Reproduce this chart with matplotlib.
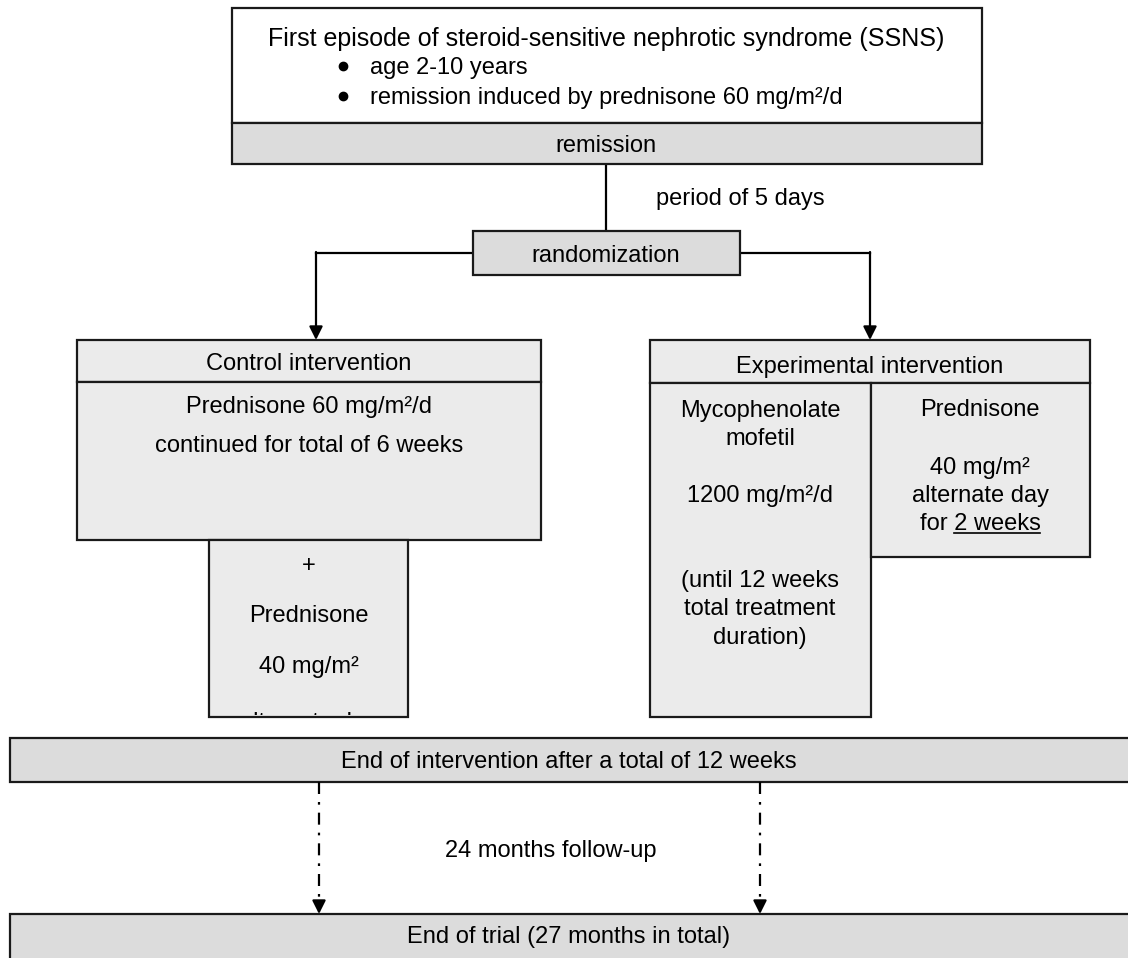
import matplotlib
matplotlib.use('Agg')
import matplotlib.pyplot as plt
from matplotlib.patches import Rectangle
from matplotlib.transforms import Bbox, TransformedBbox

plt.rcParams['font.family'] = ['Liberation Sans', 'DejaVu Sans']

# texts of the flowchart
inclusion_title = 'First episode of steroid-sensitive nephrotic syndrome (SSNS)'
inclusion_items = ['age 2-10 years', 'remission induced by prednisone 60 mg/m\u00b2/d']
remission_label = 'remission'
gap_label = 'period of 5 days'
random_label = 'randomization'
control_header = 'Control intervention'
control_lines = ['Prednisone 60 mg/m\u00b2/d', 'continued for total of 6 weeks']
control_extra = ['+', 'Prednisone', '40 mg/m\u00b2']
control_cut = 'alternate day'
exp_header = 'Experimental intervention'
mmf_lines = ['Mycophenolate', 'mofetil', '', '1200 mg/m\u00b2/d', '', '', '(until 12 weeks',
             'total treatment', 'duration)']
pred_lines = ['Prednisone', '', '40 mg/m\u00b2', 'alternate day']
pred_last = ('for ', '2 weeks')
end_intervention = 'End of intervention after a total of 12 weeks'
followup_label = '24 months follow-up'
end_trial = 'End of trial (27 months in total)'

W, H = 1128, 958
fig = plt.figure(figsize=(W / 100, H / 100), dpi=100)
ax = fig.add_axes([0, 0, 1, 1])
ax.set_xlim(0, W)
ax.set_ylim(H, 0)
ax.axis('off')

edge = '#1a1a1a'
dark = '#dcdcdc'
light = '#ebebeb'
fs = 17
dashdot = (0, (5.4, 3.6, 1.2, 3.6))


def box(x0, y0, x1, y1, fc):
    r = Rectangle((x0, y0), x1 - x0, y1 - y0, facecolor=fc, edgecolor=edge, lw=1.6, zorder=2)
    ax.add_patch(r)
    return r


def txt(x, y, s, ha='center', size=fs, **kw):
    # y is the visual middle of the line; nudge up a little to match the reference
    return ax.text(x, y - 2, s, ha=ha, va='center_baseline', fontsize=size, zorder=4, **kw)


def arrow(x0, y0, x1, y1, ls='-'):
    if ls == '-':
        ax.annotate('', xy=(x1, y1), xytext=(x0, y0),
                    arrowprops=dict(arrowstyle='-|>', color='black', lw=1.6,
                                    mutation_scale=20, shrinkA=0, shrinkB=0), zorder=3)
    else:
        ax.plot([x0, x1], [y0, y1 - 10], color='black', lw=1.6, linestyle=ls, zorder=3)
        ax.annotate('', xy=(x1, y1), xytext=(x1, y1 - 12),
                    arrowprops=dict(arrowstyle='-|>', color='black', lw=1.6,
                                    mutation_scale=20, shrinkA=0, shrinkB=0), zorder=3)


# top part
box(232, 8, 982, 123, 'white')
txt(606, 38, inclusion_title, size=18)
for i, item in enumerate(inclusion_items):
    ax.plot(343, 66 + 30 * i, 'o', color='black', ms=6, zorder=4)
    txt(370, 67 + 30 * i, item, ha='left')
box(232, 123, 982, 164, dark)
txt(606, 145, remission_label)

ax.plot([606, 606], [164, 231], color='black', lw=1.6, zorder=1)
txt(740, 198, gap_label)

box(473, 231, 740, 275, dark)
txt(606, 255, random_label)

# branches
ax.plot([473, 316], [253, 253], color='black', lw=1.6, zorder=1)
arrow(316, 252, 316, 340)
ax.plot([740, 870], [253, 253], color='black', lw=1.6, zorder=1)
arrow(870, 252, 870, 340)

# control arm
box(77, 340, 541, 382, light)
txt(309, 363, control_header)
box(77, 382, 541, 540, light)
for i, s in enumerate(control_lines):
    txt(309, 406 + 39 * i, s)
box(209, 540, 408, 717, light)
for y, s in zip([565, 615, 666], control_extra):
    txt(309, y, s)
# last line of this box is cut off by the box edge in the original
cut = ax.text(309, 729, control_cut, ha='center', va='baseline', fontsize=fs, zorder=4)
cut.set_clip_box(TransformedBbox(Bbox([[209, 540], [408, 715]]), ax.transData))
cut.set_clip_on(True)

# experimental arm
box(650, 340, 1090, 383, light)
txt(870, 366, exp_header)
box(650, 383, 871, 717, light)
box(871, 383, 1090, 557, light)
for i, s in enumerate(mmf_lines):
    if s:
        txt(760, 410 + 28.4 * i, s)
for i, s in enumerate(pred_lines):
    if s:
        txt(980, 410 + 28.5 * i, s)
full = txt(980, 524, pred_last[0] + pred_last[1])
fig.canvas.draw()
rend = fig.canvas.get_renderer()
bb = full.get_window_extent(rend)
probe = ax.text(0, 0, 'for 2', fontsize=fs)
p1 = probe.get_window_extent(rend).width
probe.set_text('2')
p2 = probe.get_window_extent(rend).width
probe.remove()
inv = ax.transData.inverted()
(xa, _), (xb, _) = inv.transform([(bb.x0 + p1 - p2, 0), (bb.x1, 0)])
ax.plot([xa, xb], [533, 533], color='black', lw=1.2, zorder=4)

# end of intervention and follow-up
box(10, 738, 1140, 782, dark)
txt(569, 761, end_intervention)
arrow(319, 782, 319, 914, ls=dashdot)
arrow(760, 782, 760, 914, ls=dashdot)
txt(551, 851, followup_label)
box(10, 914, 1140, 975, dark)
txt(569, 937, end_trial)

fig.savefig('out.png', dpi=100, facecolor='white')
